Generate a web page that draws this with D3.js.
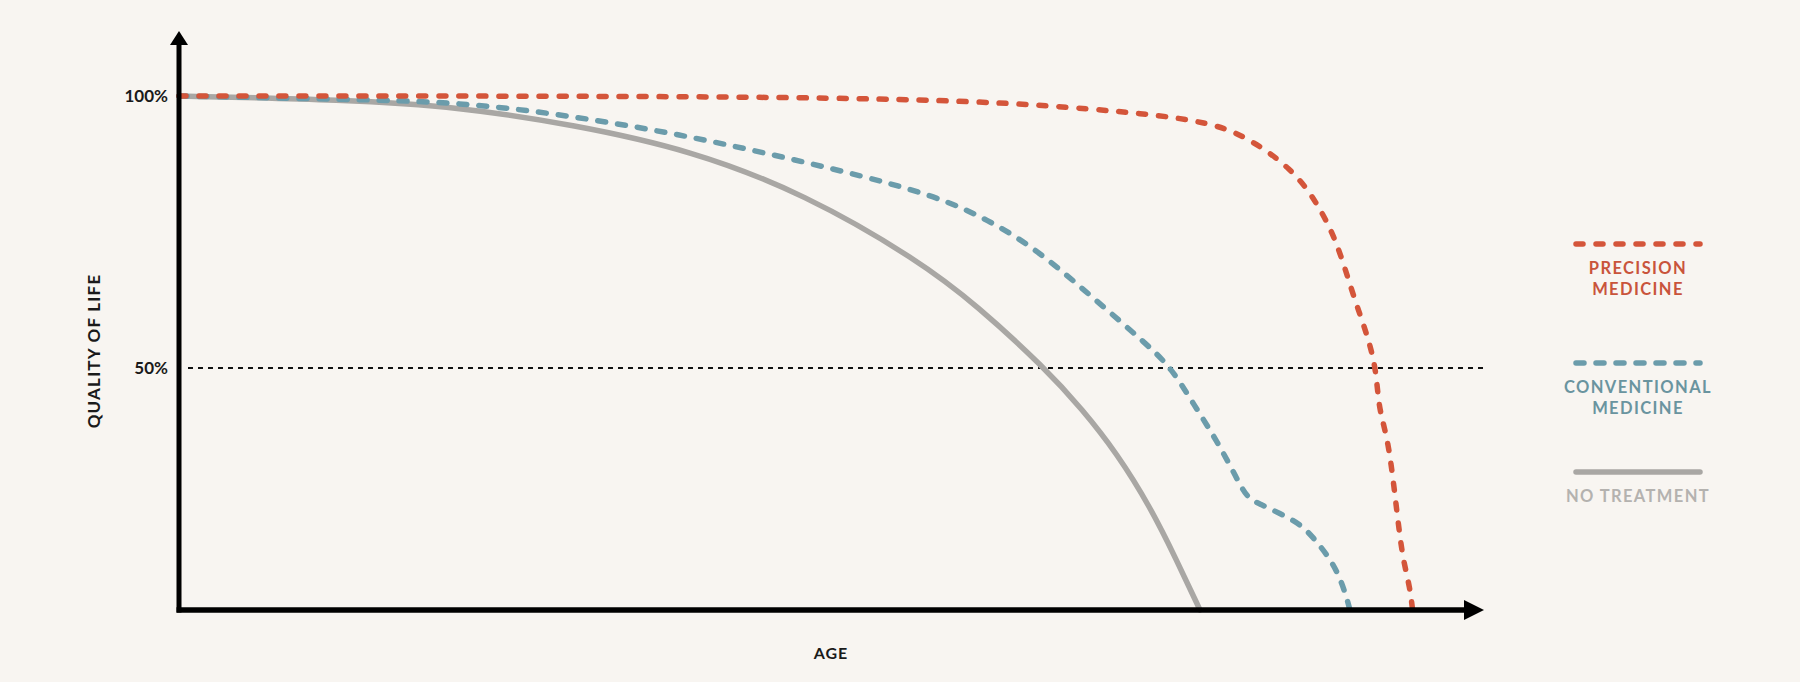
<!DOCTYPE html>
<html lang="en">
<head>
<meta charset="utf-8">
<title>Quality of life by age</title>
<script src="https://cdn.jsdelivr.net/npm/d3@7"></script>
<style>
  html, body { margin: 0; padding: 0; background: #f8f5f1; }
  svg { display: block; }
  text { font-family: Lato, 'Open Sans', sans-serif; font-weight: 700; }
</style>
</head>
<body>
<div id="viz"></div>
<script>
  const WIDTH = 1800;
  const HEIGHT = 682;

  // age runs 0..100 along the x axis, quality of life in %
  var noTreatAge = [0, 12.7, 21.5, 30.3, 39.2, 48.0, 56.7, 61.2, 66.4, 69.3, 71.9, 74.5, 76.5, 78.3];
  var noTreatVal = [100, 99.3, 98.0, 94.7, 90.1, 82.0, 69.8, 61.5, 50.0, 42.3, 34.4, 24.4, 14.7, 5.5];

  var convAge = [0, 12.7, 21.5, 30.3, 39.2, 48.0, 56.7, 61.1, 65.5, 70.0, 74.3, 76.1, 77.8, 79.6, 81.1, 81.9, 82.9, 84.4, 86.0, 87.0, 88.0, 88.8, 89.4, 89.8];
  var convVal = [100, 99.4, 98.9, 96.3, 92.6, 87.9, 82.7, 78.5, 72.4, 63.1, 54.2, 50.0, 43.4, 36.6, 29.8, 26.1, 25.0, 23.3, 21.3, 18.8, 15.8, 12.7, 9.0, 5.5];

  var precAge = [0, 39.2, 56.7, 65.5, 74.5, 78.7, 81.6, 85.4, 87.3, 88.8, 90.0, 91.1, 91.8, 92.0, 92.6, 93.0, 93.3, 93.6, 93.9, 94.4, 94.6];
  var precVal = [100, 100, 99.4, 98.5, 96.7, 95.2, 93.0, 86.6, 80.3, 73.3, 63.6, 56.3, 50.0, 42.6, 37.9, 31.6, 25.6, 19.5, 14.5, 9.6, 5.5];

  var yTicks = [50, 100];
  var legendLabels = [["PRECISION", "MEDICINE"], ["CONVENTIONAL", "MEDICINE"], ["NO TREATMENT"]];

  var colors = { prec: "#d4553a", conv: "#6b9cab", none: "#a9a7a4" };

  var svg = d3.select("#viz").append("svg")
    .attr("width", WIDTH)
    .attr("height", HEIGHT);

  var x = d3.scaleLinear().domain([0, 100]).range([179, 1483]);
  var y = d3.scaleLinear().domain([50, 100]).range([368, 96]);
  var floorY = 610;

  function zip(a, b) { return a.map(function(d, i) { return [d, b[i]]; }); }

  // smooth hand-drawn look
  var line = d3.line()
    .x(function(d) { return x(d[0]); })
    .y(function(d) { return y(d[1]); })
    .curve(d3.curveBasis);

  // 50% reference line
  svg.append("line")
    .attr("x1", 188).attr("x2", 1484)
    .attr("y1", y(50)).attr("y2", y(50))
    .attr("stroke", "#111")
    .attr("stroke-width", 2)
    .attr("stroke-dasharray", "5,5");

  // curves
  svg.append("path")
    .attr("d", line(zip(noTreatAge, noTreatVal)))
    .attr("fill", "none")
    .attr("stroke", colors.none)
    .attr("stroke-width", 5.5)
    .attr("stroke-linecap", "round");

  svg.append("path")
    .attr("d", line(zip(convAge, convVal)))
    .attr("fill", "none")
    .attr("stroke", colors.conv)
    .attr("stroke-width", 5.5)
    .attr("stroke-linecap", "round")
    .attr("stroke-dasharray", "8,12");

  svg.append("path")
    .attr("d", line(zip(precAge, precVal)))
    .attr("fill", "none")
    .attr("stroke", colors.prec)
    .attr("stroke-width", 5.5)
    .attr("stroke-linecap", "round")
    .attr("stroke-dasharray", "7,13");

  // axes
  var axisG = svg.append("g");
  axisG.append("line")
    .attr("x1", x(0)).attr("x2", x(0))
    .attr("y1", floorY + 2.5).attr("y2", 42)
    .attr("stroke", "#000").attr("stroke-width", 5);
  axisG.append("line")
    .attr("x1", x(0) - 2.5).attr("x2", 1468)
    .attr("y1", floorY).attr("y2", floorY)
    .attr("stroke", "#000").attr("stroke-width", 5.5);
  axisG.append("path")
    .attr("d", "M" + (x(0) - 9) + ",45L" + x(0) + ",31L" + (x(0) + 9) + ",45Z")
    .attr("fill", "#000");
  axisG.append("path")
    .attr("d", "M1464," + (floorY - 10) + "L1484," + floorY + "L1464," + (floorY + 10) + "Z")
    .attr("fill", "#000");

  var yAxis = svg.append("g")
    .attr("transform", "translate(" + x(0) + ",0)")
    .call(d3.axisLeft(y).tickValues(yTicks).tickSize(0).tickPadding(11)
      .tickFormat(function(d) { return d + "%"; }));
  yAxis.select(".domain").remove();
  yAxis.selectAll("text")
    .style("font-family", "Lato, sans-serif")
    .style("font-weight", 700)
    .style("font-size", "17px")
    .attr("fill", "#1a1a1a");

  svg.append("text")
    .attr("transform", "translate(100,351) rotate(-90)")
    .attr("text-anchor", "middle")
    .attr("font-size", 17)
    .attr("letter-spacing", 1.2)
    .attr("fill", "#1a1a1a")
    .text("QUALITY OF LIFE");

  svg.append("text")
    .attr("x", 831).attr("y", 659)
    .attr("text-anchor", "middle")
    .attr("font-size", 16)
    .attr("letter-spacing", 1)
    .attr("fill", "#1a1a1a")
    .text("AGE");

  // legend
  var legend = [
    { color: colors.prec, dash: "7,13", text: legendLabels[0], ly: 244, textColor: "#c9543b" },
    { color: colors.conv, dash: "8,12", text: legendLabels[1], ly: 363, textColor: "#6a949f" },
    { color: colors.none, dash: null, text: legendLabels[2], ly: 472, textColor: "#b4b2af" }
  ];

  var lg = svg.append("g").selectAll("g").data(legend).enter().append("g");
  lg.append("line")
    .attr("x1", 1576).attr("x2", 1700)
    .attr("y1", function(d) { return d.ly; })
    .attr("y2", function(d) { return d.ly; })
    .attr("stroke", function(d) { return d.color; })
    .attr("stroke-width", 5.5)
    .attr("stroke-linecap", "round")
    .attr("stroke-dasharray", function(d) { return d.dash; });
  lg.each(function(d) {
    var g = d3.select(this);
    d.text.forEach(function(t, i) {
      g.append("text")
        .attr("x", 1638)
        .attr("y", d.ly + 30 + i * 21)
        .attr("text-anchor", "middle")
        .attr("font-size", 16.5)
        .attr("letter-spacing", 1.4)
        .attr("fill", d.textColor)
        .text(t);
    });
  });
</script>
</body>
</html>
